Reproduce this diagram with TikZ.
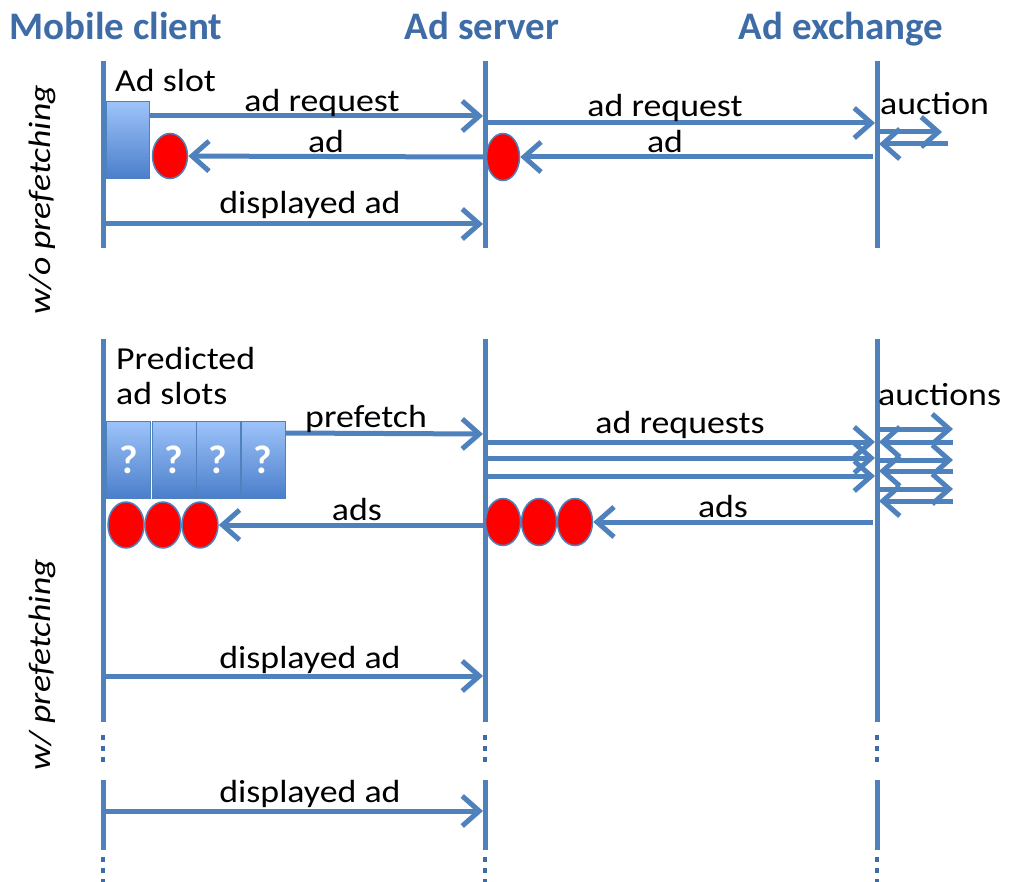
\documentclass[tikz,border=0pt]{standalone}
\usepackage{fontspec}
\setmainfont{Carlito}
\newfontfamily\msgfont[FakeStretch=1.12]{Carlito}
\newfontfamily\sidefont[FakeStretch=1.15]{Carlito}
\usetikzlibrary{arrows.meta,positioning,shapes.geometric}
\definecolor{seqblue}{HTML}{4F81BD}
\definecolor{headblue}{HTML}{3D6CA6}
\definecolor{slottop}{HTML}{9DC3F9}
\definecolor{slotbottom}{HTML}{4A7ECB}
\definecolor{adred}{HTML}{FF0000}

\begin{document}
\begin{tikzpicture}[x=1pt, y=-1pt,
    lifeline/.style={seqblue, line width=5pt},
    dotline/.style={headblue, line width=4.5pt, dash pattern=on 5pt off 6pt},
    msg/.style={seqblue, line width=5pt, -{Straight Barb[length=17pt,width=30pt]}},
    msgtext/.style={font=\msgfont\fontsize{32}{35}\selectfont, inner sep=0pt},
    header/.style={font=\bfseries\fontsize{39}{40}\selectfont, text=headblue, inner sep=0pt, anchor=base},
    sidetext/.style={font=\sidefont\itshape\fontsize{31}{33}\selectfont, rotate=90, inner sep=0pt},
    slotbox/.style={draw=seqblue, line width=1pt, top color=slottop, bottom color=slotbottom,
        minimum width=44pt, minimum height=77pt, inner sep=0pt,
        font=\bfseries\fontsize{40}{40}\selectfont, text=white},
    adball/.style={ellipse, draw=seqblue, line width=1.5pt, fill=adred,
        minimum width=36pt, minimum height=46pt, inner sep=0pt}]
    \useasboundingbox (0,0) rectangle (1011,882);

    % lanes
    \node[header] (h-client) at (116,40) {Mobile client};
    \node[header] (h-server) at (482,40) {Ad server};
    \node[header] (h-exchange) at (841,40) {Ad exchange};
    \node[sidetext] (side-wo) at (42,200) {w/o prefetching};
    \node[sidetext] (side-w) at (42,665) {w/ prefetching};

    \foreach \lane/\x in {client/103, server/485, exchange/877} {
        \coordinate (\lane-t1) at (\x,61);
        \coordinate (\lane-b1) at (\x,248);
        \coordinate (\lane-t2) at (\x,339);
        \coordinate (\lane-b2) at (\x,722);
        \coordinate (\lane-t3) at (\x,780);
        \coordinate (\lane-b3) at (\x,850);
        \draw[lifeline] (\lane-t1) -- (\lane-b1);
        \draw[lifeline] (\lane-t2) -- (\lane-b2);
        \draw[lifeline] (\lane-t3) -- (\lane-b3);
        \draw[dotline] (\x,735) -- (\x,764);
        \draw[dotline] (\x,857) -- (\x,886);
    }

    % without prefetching
    \node[slotbox, minimum width=43pt] (slot) at (127.5,140.5) {};
    \node[msgtext, anchor=base west] (slot-text) at (115,92) {Ad slot};
    \node[adball, minimum width=35pt, minimum height=45pt] (ad-client) at (170,156) {};
    \node[adball, minimum width=33pt, minimum height=47pt] (ad-server) at (503,157) {};

    \coordinate (req-in) at (483,116);
    \coordinate (ad-out) at (483,157);
    \coordinate (show-out) at (105,224);
    \coordinate (show-in) at (483,224);
    \coordinate (xreq-out) at (487,123);
    \coordinate (xreq-in) at (875,123);
    \coordinate (xad-out) at (873,157);
    \coordinate (auc-a) at (879,132);
    \coordinate (auc-b) at (942,132);
    \coordinate (auc-c) at (948,144);
    \coordinate (auc-d) at (879,144);

    \draw[msg] ([yshift=24.5pt]slot.east) -- (req-in);
    \draw[msg] (ad-out) -- (ad-client);
    \draw[msg] (show-out) -- (show-in);
    \draw[msg] (xreq-out) -- (xreq-in);
    \draw[msg] (xad-out) -- (ad-server);
    \draw[msg] (auc-a) -- (auc-b);
    \draw[msg] (auc-c) -- (auc-d);

    \node[msgtext, anchor=base] (req-text) at (322,112) {ad request};
    \node[msgtext, anchor=base] (ad-text) at (326,153) {ad};
    \node[msgtext, anchor=base] (show-text) at (310,214) {displayed ad};
    \node[msgtext, anchor=base] (xreq-text) at (665,117) {ad request};
    \node[msgtext, anchor=base] (xad-text) at (665,153) {ad};
    \node[msgtext, anchor=base west] (auc-text) at (880,115) {auction};

    % with prefetching
    \node[msgtext, anchor=north west, align=left] (pred-text) at (116,347) {Predicted\\ad slots};
    \foreach \i/\x in {1/128.5, 2/174, 3/218, 4/263}
        \node[slotbox] (pslot-\i) at (\x,460) {?};
    \foreach \i/\x in {1/126, 2/163, 3/200}
        \node[adball] (cball-\i) at (\x,525) {};
    \foreach \i/\x in {1/503, 2/539, 3/575}
        \node[adball, minimum width=35pt, minimum height=47pt] (sball-\i) at (\x,522) {};

    \coordinate (pre-in) at (483,434);
    \coordinate (ads-out) at (483,525);
    \coordinate (xads-out) at (873,522);
    \coordinate (show2-out) at (105,676);
    \coordinate (show2-in) at (483,676);
    \coordinate (show3-out) at (105,811);
    \coordinate (show3-in) at (483,811);

    \draw[msg] ([yshift=-12pt]pslot-4.north east) -- (pre-in);
    \draw[msg] (ads-out) -- (cball-3);
    \draw[msg] (xads-out) -- (sball-3);
    \draw[msg] (show2-out) -- (show2-in);
    \draw[msg] (show3-out) -- (show3-in);

    \foreach \k/\y in {1/442, 2/458, 3/476} {
        \coordinate (xreqs-\k-a) at (487,\y);
        \coordinate (xreqs-\k-b) at (875,\y);
        \draw[msg] (xreqs-\k-a) -- (xreqs-\k-b);
    }
    \foreach \k/\yr/\yl in {1/429/442, 2/460/471, 3/489/501} {
        \coordinate (bid-\k-a) at (880,\yr);
        \coordinate (bid-\k-b) at (953,\yr);
        \coordinate (win-\k-a) at (953,\yl);
        \coordinate (win-\k-b) at (879,\yl);
        \draw[msg] (bid-\k-a) -- (bid-\k-b);
        \draw[msg] (win-\k-a) -- (win-\k-b);
    }

    \node[msgtext, anchor=base] (pre-text) at (366,427) {prefetch};
    \node[msgtext, anchor=base] (ads-text) at (357,520) {ads};
    \node[msgtext, anchor=base] (xreqs-text) at (680,433) {ad requests};
    \node[msgtext, anchor=base] (xads-text) at (723,517) {ads};
    \node[msgtext, anchor=base west] (aucs-text) at (878,405) {auctions};
    \node[msgtext, anchor=base] (show2-text) at (310,668) {displayed ad};
    \node[msgtext, anchor=base] (show3-text) at (310,802) {displayed ad};
\end{tikzpicture}
\end{document}
